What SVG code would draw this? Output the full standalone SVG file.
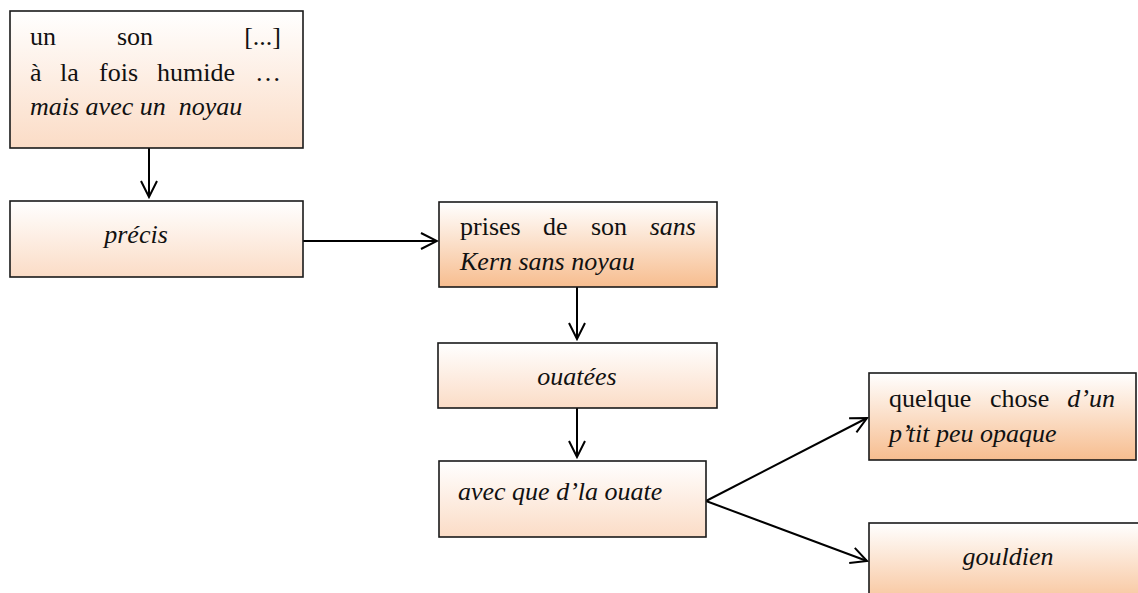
<svg xmlns="http://www.w3.org/2000/svg" width="1138" height="593" viewBox="0 0 1138 593">
<style>
.box{stroke:#1a1a1a;stroke-width:1.6}
.lt{fill:url(#gl)}
.dk{fill:url(#gd)}
.c{stroke:#000;stroke-width:2;fill:none}
</style>
<defs>
<linearGradient id="gl" x1="0" y1="0" x2="0" y2="1">
<stop offset="0" stop-color="#ffffff"/>
<stop offset="1" stop-color="#fbdcc6"/>
</linearGradient>
<linearGradient id="gd" x1="0" y1="0" x2="0" y2="1">
<stop offset="0" stop-color="#ffffff"/>
<stop offset="1" stop-color="#f7bd8f"/>
</linearGradient>
<marker id="ah" viewBox="0 0 20 20" refX="18" refY="10" markerWidth="20" markerHeight="20" markerUnits="userSpaceOnUse" orient="auto">
<polyline points="2,2 18,10 2,18" fill="none" stroke="#000" stroke-width="2"/>
</marker>
</defs>
<g id="connectors">
<line class="c" x1="149" y1="148" x2="149" y2="197" marker-end="url(#ah)"/>
<line class="c" x1="303" y1="241" x2="437" y2="241" marker-end="url(#ah)"/>
<line class="c" x1="577" y1="287" x2="577" y2="339" marker-end="url(#ah)"/>
<line class="c" x1="577" y1="408" x2="577" y2="457" marker-end="url(#ah)"/>
<line class="c" x1="706" y1="501" x2="867" y2="418" marker-end="url(#ah)"/>
<line class="c" x1="706" y1="501" x2="867" y2="561" marker-end="url(#ah)"/>
</g>
<g id="n1" fill="#111">
<rect class="box lt" x="10" y="11" width="293" height="137"/>
<text x="30" y="45" font-family="Liberation Serif" font-size="26">un</text><text x="117" y="45" font-family="Liberation Serif" font-size="26">son</text><text x="281" y="45" font-family="Liberation Serif" font-size="26" text-anchor="end">[...]</text>
<text x="30" y="81" font-family="Liberation Serif" font-size="26">à</text><text x="60" y="81" font-family="Liberation Serif" font-size="26">la</text><text x="99" y="81" font-family="Liberation Serif" font-size="26">fois</text><text x="157" y="81" font-family="Liberation Serif" font-size="26">humide</text><text x="281" y="81" font-family="Liberation Serif" font-size="26" text-anchor="end">…</text>
<text x="30" y="115" font-family="Liberation Serif" font-size="26" font-style="italic" xml:space="preserve">mais avec un  noyau</text>
</g>
<g id="n2" fill="#111">
<rect class="box lt" x="10" y="201" width="293" height="76"/>
<text x="136" y="243" font-family="Liberation Serif" font-size="26" font-style="italic" text-anchor="middle">précis</text>
</g>
<g id="n3" fill="#111">
<rect class="box dk" x="439" y="202" width="278" height="85"/>
<text x="460" y="235" font-family="Liberation Serif" font-size="26">prises</text><text x="543" y="235" font-family="Liberation Serif" font-size="26">de</text><text x="591" y="235" font-family="Liberation Serif" font-size="26">son</text><text x="696" y="235" font-family="Liberation Serif" font-size="26" font-style="italic" text-anchor="end">sans</text>
<text x="460" y="270" font-family="Liberation Serif" font-size="26" font-style="italic">Kern sans noyau</text>
</g>
<g id="n4" fill="#111">
<rect class="box lt" x="438" y="343" width="279" height="65"/>
<text x="577" y="385" font-family="Liberation Serif" font-size="26" font-style="italic" text-anchor="middle">ouatées</text>
</g>
<g id="n5" fill="#111">
<rect class="box lt" x="439" y="461" width="267" height="76"/>
<text x="458" y="500" font-family="Liberation Serif" font-size="26" font-style="italic">avec que d’la ouate</text>
</g>
<g id="n6" fill="#111">
<rect class="box dk" x="869" y="373" width="267" height="87"/>
<text x="889" y="407" font-family="Liberation Serif" font-size="26">quelque</text><text x="990" y="407" font-family="Liberation Serif" font-size="26">chose</text><text x="1115" y="407" font-family="Liberation Serif" font-size="26" font-style="italic" text-anchor="end">d’un</text>
<text x="889" y="442" font-family="Liberation Serif" font-size="26" font-style="italic">p’tit peu opaque</text>
</g>
<g id="n7" fill="#111">
<rect class="box dk" x="869" y="523" width="290" height="90"/>
<text x="1008" y="565" font-family="Liberation Serif" font-size="26" font-style="italic" text-anchor="middle">gouldien</text>
</g>
</svg>
